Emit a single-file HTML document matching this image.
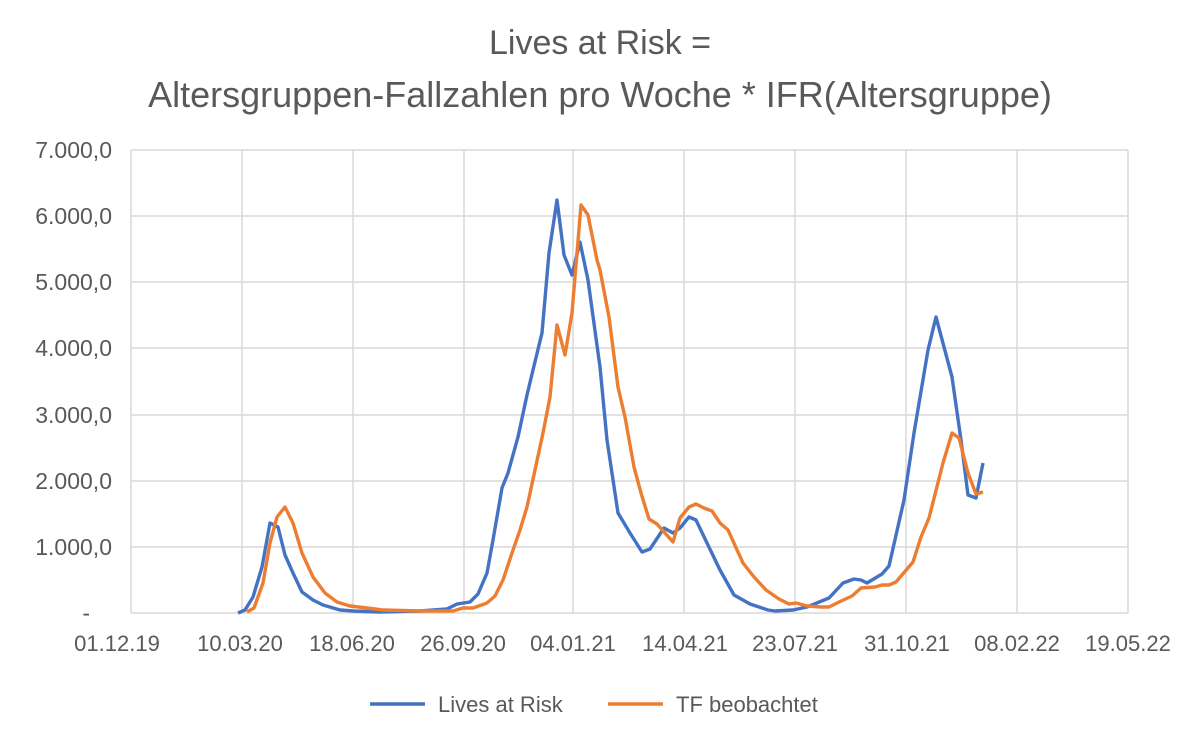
<!DOCTYPE html>
<html><head><meta charset="utf-8"><style>
body{margin:0;background:#fff;}
svg text{font-family:"Liberation Sans",sans-serif;fill:#595959;}
</style></head><body>
<svg width="1200" height="742" viewBox="0 0 1200 742" xmlns="http://www.w3.org/2000/svg">
<text x="600" y="54" font-size="34" text-anchor="middle">Lives at Risk =</text>
<text x="600" y="107" font-size="36" text-anchor="middle">Altersgruppen-Fallzahlen pro Woche * IFR(Altersgruppe)</text>
<g stroke="#d9d9d9" stroke-width="1.5" fill="none">
<path d="M131 150H1128M131 216H1128M131 282H1128M131 348H1128M131 415H1128M131 481H1128M131 547H1128M131 613H1128"/>
<path d="M131 150V613M242 150V613M353 150V613M464 150V613M573 150V613M684 150V613M795 150V613M906 150V613M1017 150V613M1128 150V613"/>
</g>
<g font-size="23" text-anchor="end">
<text x="112" y="158">7.000,0</text><text x="112" y="224">6.000,0</text><text x="112" y="290">5.000,0</text><text x="112" y="356">4.000,0</text><text x="112" y="423">3.000,0</text><text x="112" y="489">2.000,0</text><text x="112" y="555">1.000,0</text><text x="90" y="621">-</text>
</g>
<g font-size="22" text-anchor="middle">
<text x="117" y="651">01.12.19</text><text x="240" y="651">10.03.20</text><text x="352" y="651">18.06.20</text><text x="463" y="651">26.09.20</text><text x="573" y="651">04.01.21</text><text x="685" y="651">14.04.21</text><text x="795" y="651">23.07.21</text><text x="907" y="651">31.10.21</text><text x="1017" y="651">08.02.22</text><text x="1128" y="651">19.05.22</text>
</g>
<polyline fill="none" stroke="#4472c4" stroke-width="3.4" stroke-linejoin="round" points="238,613 245,610 253,597 262,567 270,523 278,527 285,555 293,573 302,592 313,600 323,605 340,610 353,611 380,612 420,611 447,609 457,604 470,602 478,594 487,573 493,540 502,488 508,473 518,437 527,395 533,370 542,333 549,253 557,200 564,255 572,275 580,242 588,280 600,367 607,440 618,513 630,533 642,552 650,549 664,528 673,533 680,528 689,517 696,520 707,543 720,570 734,595 750,604 768,610 775,611 793,610 807,607 829,598 843,583 854,579 861,580 867,583 882,574 889,566 904,500 914,433 928,350 936,317 952,377 961,440 968,495 976,498 983,463"/>
<polyline fill="none" stroke="#ed7d31" stroke-width="3.4" stroke-linejoin="round" points="247,612 254,608 263,583 270,543 277,517 285,507 293,523 302,553 313,577 325,593 337,602 350,606 367,608 383,610 420,611 453,611 463,608 473,608 487,603 495,596 503,580 512,553 520,530 527,507 535,470 543,433 550,397 557,325 565,355 572,313 581,205 588,215 597,260 600,270 609,317 618,387 625,417 634,467 641,493 649,519 657,524 665,533 673,542 680,518 689,507 696,504 704,508 712,511 720,523 728,530 743,563 754,577 766,590 779,599 789,604 796,603 807,606 821,607 829,607 839,602 852,596 861,588 875,587 882,585 889,585 896,582 913,562 921,537 929,518 943,463 952,433 959,438 968,473 976,494 983,492"/>
<line x1="370" y1="704" x2="425" y2="704" stroke="#4472c4" stroke-width="3.4"/>
<text x="438" y="712" font-size="22">Lives at Risk</text>
<line x1="608" y1="704" x2="663" y2="704" stroke="#ed7d31" stroke-width="3.4"/>
<text x="676" y="712" font-size="22">TF beobachtet</text>
</svg>
</body></html>
